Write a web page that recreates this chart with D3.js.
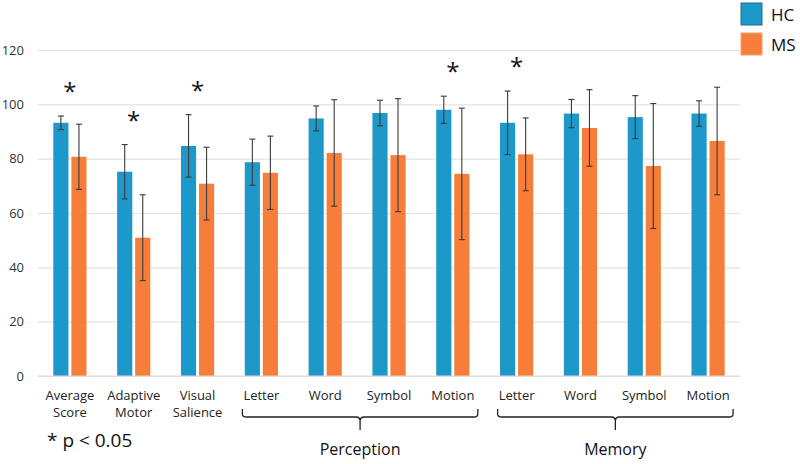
<!DOCTYPE html>
<html><head><meta charset="utf-8">
<script src="https://cdn.jsdelivr.net/npm/d3@7"></script>
<style>body{margin:0;background:#fff;}svg{display:block;font-family:"Open Sans",sans-serif;}</style>
</head><body><svg id="c" width="800" height="464"></svg>
<script>
const categories = [["Average","Score"],["Adaptive","Motor"],["Visual","Salience"],["Letter"],["Word"],["Symbol"],["Motion"],["Letter"],["Word"],["Symbol"],["Motion"]];
const series = ["HC","MS"];
const hcValues = [93.2, 75.2, 84.7, 78.7, 94.8, 96.8, 98.0, 93.2, 96.6, 95.3, 96.6];
const hcErrors = [2.5, 10.0, 11.5, 8.5, 4.6, 4.7, 5.0, 11.7, 5.2, 7.9, 4.7];
const msValues = [80.7, 50.9, 70.8, 74.8, 82.1, 81.3, 74.4, 81.6, 91.3, 77.3, 86.5];
const msErrors = [12.0, 15.8, 13.4, 13.5, 19.6, 20.8, 24.2, 13.4, 14.1, 23.0, 19.8];
const significant = [true, true, true, false, false, false, true, true, false, false, false];
const yTicks = [0, 20, 40, 60, 80, 100, 120];
const groups = [{name:"Perception", from:3, to:6},{name:"Memory", from:7, to:10}];
const note = "* p < 0.05";

const colors = {HC:"#1e98c9", MS:"#f67e3a"};
const strokeColors = {HC:"#1a6f96", MS:"#f9a06a"};
const svg = d3.select("#c");
const idx = d3.range(categories.length);
const x0 = d3.scaleBand().domain(idx).range([38, 740]).paddingInner(0.48).paddingOuter(0.24);
const x1 = d3.scaleBand().domain(series).range([0, x0.bandwidth()]).paddingInner(0.16);
const y = d3.scaleLinear().domain([0, 120]).range([376, 50]);

// grid
const yAxis = d3.axisLeft(y).tickValues(yTicks).tickSize(-(740-38)).tickPadding(14);
const ga = svg.append("g").attr("transform","translate(38,0)").call(yAxis);
ga.select(".domain").remove();
ga.selectAll(".tick line").attr("stroke","#e3e3e3").attr("stroke-width",1.2);
ga.selectAll(".tick text").attr("fill","#333").style("font-size","13px").style("font-family","Open Sans, sans-serif");

const data = idx.map(i => ({i, vals:[{s:"HC",v:hcValues[i],e:hcErrors[i]},{s:"MS",v:msValues[i],e:msErrors[i]}]}));
const g = svg.selectAll(".grp").data(data).join("g").attr("transform", d=>`translate(${x0(d.i)},0)`);
g.selectAll("rect").data(d=>d.vals).join("rect")
  .attr("x", d=>x1(d.s)).attr("width", x1.bandwidth())
  .attr("y", d=>y(d.v)).attr("height", d=>y(0)-y(d.v))
  .attr("fill", d=>colors[d.s]);
// error bars
const eb = g.selectAll(".eb").data(d=>d.vals).join("g").attr("class","eb")
  .attr("transform", d=>`translate(${x1(d.s)+x1.bandwidth()/2},0)`);
eb.append("line").attr("y1",d=>y(d.v+d.e)).attr("y2",d=>y(d.v-d.e)).attr("stroke","#3a3a3a").attr("stroke-width",1.1);
eb.append("line").attr("x1",-3).attr("x2",3).attr("y1",d=>y(d.v+d.e)).attr("y2",d=>y(d.v+d.e)).attr("stroke","#3a3a3a").attr("stroke-width",1.1);
eb.append("line").attr("x1",-3).attr("x2",3).attr("y1",d=>y(d.v-d.e)).attr("y2",d=>y(d.v-d.e)).attr("stroke","#3a3a3a").attr("stroke-width",1.1);

// stars
svg.selectAll(".star").data(idx.filter(i=>significant[i])).join("text")
  .attr("x", i=>x0(i)+x0.bandwidth()/2)
  .attr("y", i=>y(Math.max(hcValues[i]+hcErrors[i], msValues[i]+msErrors[i])) - 30 + 14)
  .attr("text-anchor","middle").attr("fill","#111").style("font-size","24px")
  .text("*");

// baseline
svg.append("line").attr("x1",38).attr("x2",740).attr("y1",y(0)).attr("y2",y(0)).attr("stroke","#d9d9d9").attr("stroke-width",1.2);

// category labels
const lab = svg.selectAll(".cat").data(idx).join("text")
  .attr("x", i=>x0(i)+x0.bandwidth()/2).attr("y", 400)
  .attr("text-anchor","middle").attr("fill","#222").style("font-size","13px");
lab.selectAll("tspan").data(i=>categories[i]).join("tspan")
  .attr("x", function(){return this.parentNode.getAttribute("x");})
  .attr("dy",(d,k)=>k===0?0:16.5).text(d=>d);

// braces
groups.forEach(gr=>{
  const l = x0(gr.from)+x0.bandwidth()/2 - 19;
  const r = x0(gr.to)+x0.bandwidth()/2 + 25;
  const m = (l+r)/2;
  const top=409, hy=417, tip=430;
  const p = `M${l},${top} L${l},${hy-3} Q${l},${hy} ${l+4},${hy} L${m-4},${hy} Q${m},${hy} ${m},${hy+4} L${m},${tip} M${m},${hy+4} Q${m},${hy} ${m+4},${hy} L${r-4},${hy} Q${r},${hy} ${r},${hy-3} L${r},${top}`;
  svg.append("path").attr("d",p).attr("fill","none").attr("stroke","#222").attr("stroke-width",1.3);
  svg.append("text").attr("x",m).attr("y",455).attr("text-anchor","middle").attr("fill","#111").style("font-size","16px").text(gr.name);
});

svg.append("text").attr("x",47).attr("y",447).attr("fill","#111").style("font-size","19px").text(note);

// legend
const lg = svg.selectAll(".lg").data(series).join("g").attr("transform",(d,k)=>`translate(741,${3+k*30})`);
lg.append("rect").attr("width",21).attr("height",22).attr("fill",d=>colors[d]).attr("stroke",d=>strokeColors[d]).attr("stroke-width",1);
lg.append("text").attr("x",30).attr("y",17.5).attr("fill","#111").style("font-size","17px").text(d=>d);
</script></body></html>
